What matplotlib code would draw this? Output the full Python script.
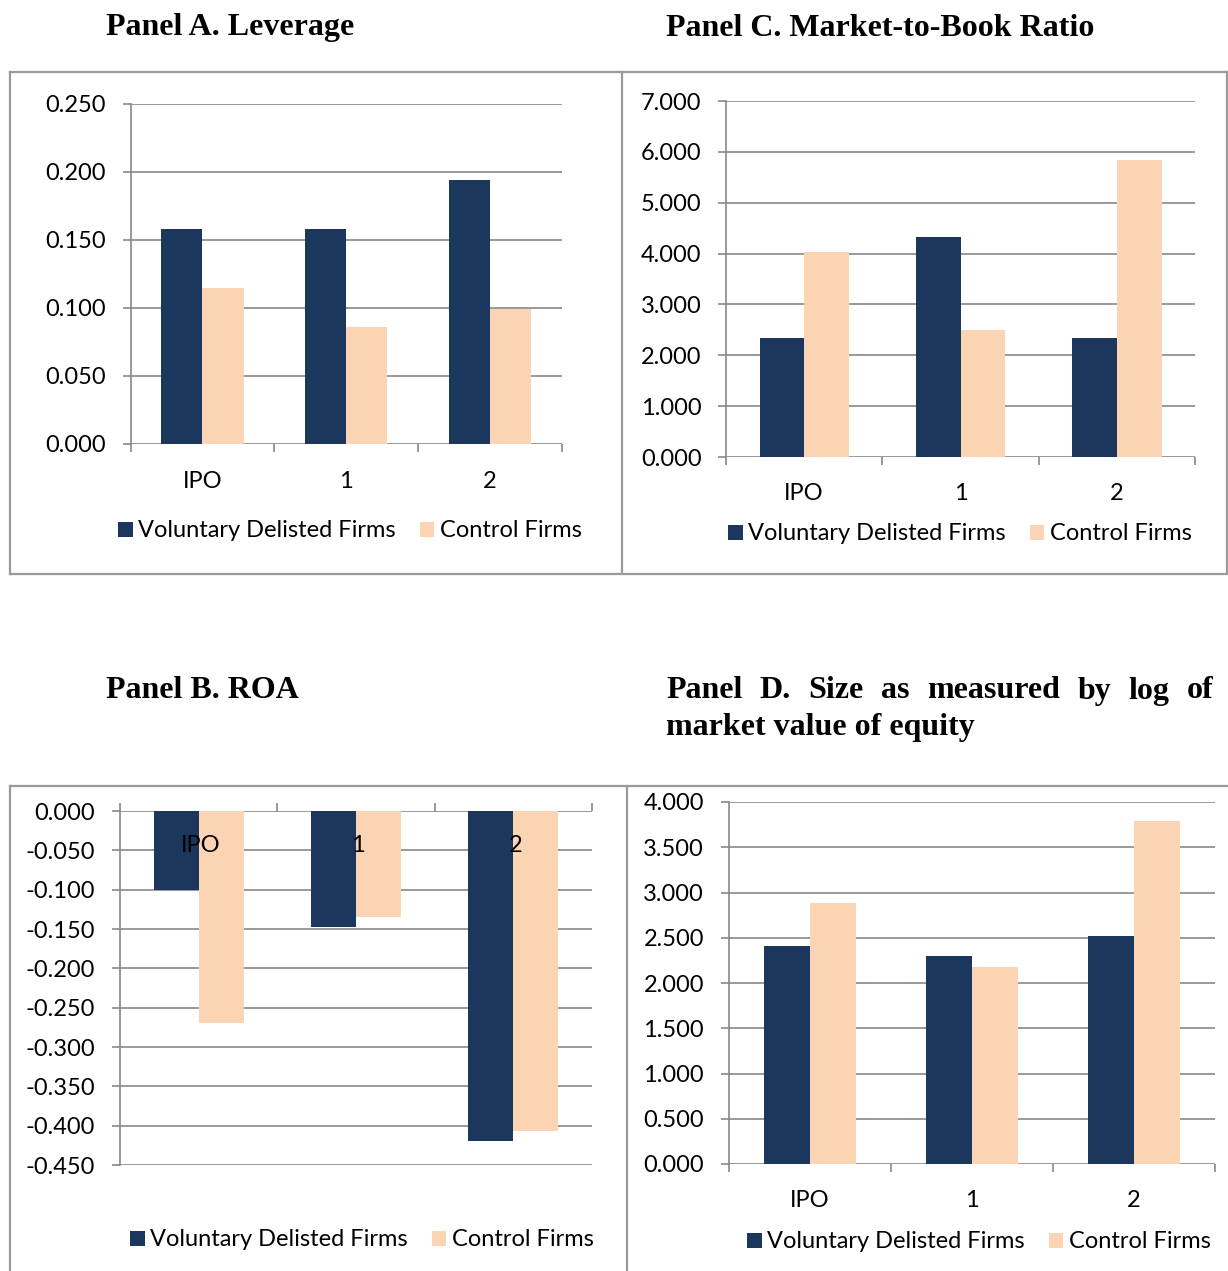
import numpy as np
import matplotlib
matplotlib.use("Agg")
import matplotlib.pyplot as plt
from matplotlib.patches import Patch
from matplotlib.lines import Line2D

plt.rcParams['axes.unicode_minus'] = False

categories = ["IPO", "1", "2"]
series_names = ["Voluntary Delisted Firms", "Control Firms"]

leverage_vol = [0.158, 0.158, 0.194]
leverage_ctl = [0.115, 0.086, 0.099]

mtb_vol = [2.34, 4.32, 2.34]
mtb_ctl = [4.03, 2.50, 5.84]

roa_vol = [-0.100, -0.147, -0.419]
roa_ctl = [-0.270, -0.135, -0.407]

size_vol = [2.41, 2.30, 2.52]
size_ctl = [2.88, 2.18, 3.79]

NAVY = "#1B375D"
PEACH = "#FBD4B4"
GRID = "#878787"
BOX = "#9A9A9A"
TICK_FONT = "Lato"
TITLE_FONT = "Liberation Serif"
FS = 17

W, H = 1228, 1271
fig = plt.figure(figsize=(W / 100, H / 100), dpi=100)


def px_axes(left, top, right, bottom):
    return fig.add_axes([left / W, 1 - bottom / H, (right - left) / W, (bottom - top) / H])


def fx(x):
    return x / W


def fy(y):
    return 1 - y / H


def fmt(t):
    s = f"{t:.3f}"
    return "0.000" if s == "-0.000" else s


def bar_panel(ax, vol, ctl, ymin, ymax, step, neg=False, label_pad=19.5, ylab_pad=12):
    x = np.arange(len(categories))
    bw = 1 / 3.5
    ax.bar(x - bw / 2, vol, bw, color=NAVY, zorder=3)
    ax.bar(x + bw / 2, ctl, bw, color=PEACH, zorder=3)
    ax.set_xlim(-0.5, len(categories) - 0.5)
    ax.set_ylim(ymin, ymax)
    ticks = np.arange(ymin, ymax + step / 2, step)
    ax.set_yticks(ticks)
    ax.set_yticklabels([fmt(t) for t in ticks], fontfamily=TICK_FONT, fontsize=FS)
    ax.yaxis.grid(True, color=GRID, lw=1.2, zorder=0)
    ax.set_axisbelow(True)
    for s in ["top", "right", "bottom"]:
        ax.spines[s].set_visible(False)
    ax.spines["left"].set_color(GRID)
    ax.spines["left"].set_linewidth(1.2)
    ax.tick_params(axis="y", length=6, width=1.2, color=GRID, pad=ylab_pad)
    bounds = np.arange(-0.5, len(categories), 1.0)
    ax.set_xticks(bounds)
    ax.set_xticklabels([])
    ax.tick_params(axis="x", which="major", length=6, width=1.2, color=GRID)
    if neg:
        ax.xaxis.set_ticks_position("top")
        ax.tick_params(axis="x", which="major", direction="out", length=6)
        for i, c in enumerate(categories):
            ax.text(i + 0.015, -0.044, c, ha="center", va="center", fontfamily=TICK_FONT,
                    fontsize=FS, zorder=5)
    else:
        ax.set_xticks(x, minor=True)
        ax.set_xticklabels(categories, minor=True, fontfamily=TICK_FONT, fontsize=FS)
        ax.tick_params(axis="x", which="minor", length=0, pad=label_pad)


def add_legend(cx, cy):
    handles = [Patch(facecolor=NAVY, edgecolor="none"), Patch(facecolor=PEACH, edgecolor="none")]
    fig.legend(handles, series_names, loc="center", bbox_to_anchor=(fx(cx), fy(cy)),
               ncol=2, frameon=False, handlelength=0.6, handleheight=0.6,
               handletextpad=0.25, columnspacing=1.0,
               prop={"family": TICK_FONT, "size": FS})


def box_line(x0, y0, x1, y1):
    fig.add_artist(Line2D([fx(x0), fx(x1)], [fy(y0), fy(y1)], color=BOX, lw=1.6))


# panel frames
box_line(10, 72, 1228, 72)
box_line(10, 574, 1228, 574)
box_line(10, 72, 10, 574)
box_line(622, 72, 622, 574)
box_line(1227, 72, 1227, 574)
box_line(10, 786, 1228, 786)
box_line(10, 786, 10, 1271)
box_line(627, 786, 627, 1271)

axA = px_axes(130.5, 104, 562, 444)
bar_panel(axA, leverage_vol, leverage_ctl, 0.0, 0.25, 0.05)
add_legend(350, 531)

axC = px_axes(726, 101, 1195, 457)
bar_panel(axC, mtb_vol, mtb_ctl, 0.0, 7.0, 1.0, label_pad=18.5, ylab_pad=11.5)
add_legend(960, 534)

axB = px_axes(120, 811, 592, 1165)
bar_panel(axB, roa_vol, roa_ctl, -0.45, 0.0, 0.05, neg=True, ylab_pad=12)
add_legend(362, 1240)

axD = px_axes(729, 802, 1215, 1164)
bar_panel(axD, size_vol, size_ctl, 0.0, 4.0, 0.5, label_pad=19, ylab_pad=12)
add_legend(979, 1242)

# titles
tkw = dict(fontfamily=TITLE_FONT, fontweight="bold", fontsize=23, va="center", ha="left")
fig.text(fx(106), fy(28), "Panel A. Leverage", **tkw)
fig.text(fx(666), fy(28), "Panel C. Market-to-Book Ratio", **tkw)
fig.text(fx(106), fy(691), "Panel B. ROA", **tkw)

# justified first line of panel D title
words = "Panel D. Size as measured by log of".split()
renderer = fig.canvas.get_renderer()
arts = [fig.text(0, fy(691), w, **tkw) for w in words]
widths = [a.get_window_extent(renderer).width for a in arts]
gap = (1214 - 666 - sum(widths)) / (len(words) - 1)
xpos = 666
for a, wd in zip(arts, widths):
    a.set_x(fx(xpos))
    xpos += wd + gap
fig.text(fx(666), fy(728), "market value of equity", **tkw)

fig.savefig("out.png", dpi=100)
